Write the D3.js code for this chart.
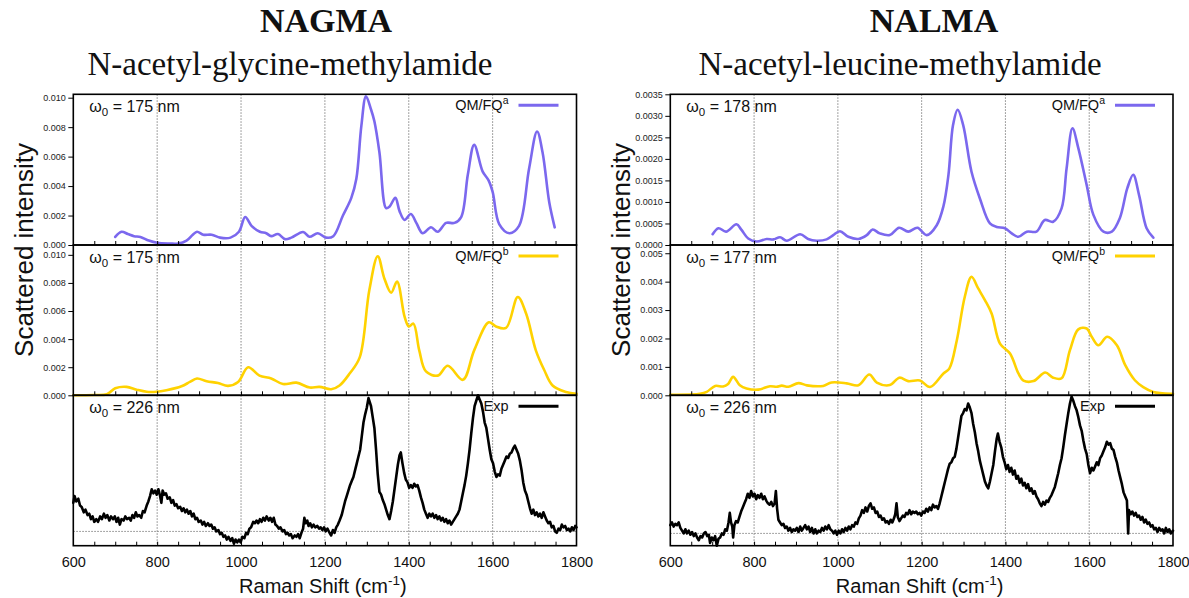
<!DOCTYPE html>
<html>
<head>
<meta charset="utf-8">
<script src="https://cdn.jsdelivr.net/npm/d3@7"></script>
<style>
  body { margin: 0; background: #fff; }
  svg { display: block; }
</style>
</head>
<body>
<svg id="fig" width="1189" height="598"></svg>
<script>
// ---------------------------------------------------------------
// Raman spectra: computed (QM/FQ a, QM/FQ b) vs experiment
// Each series is a list of [Raman shift (cm-1), intensity] pairs.
// ---------------------------------------------------------------

const shiftTicks = [600, 800, 1000, 1200, 1400, 1600, 1800];
const gridShifts = [800, 1000, 1200, 1400, 1600];

const nagmaTicksA = [0, 0.002, 0.004, 0.006, 0.008, 0.010];
const nagmaTicksB = [0, 0.002, 0.004, 0.006, 0.008, 0.010];
const nalmaTicksA = [0, 0.0005, 0.0010, 0.0015, 0.0020, 0.0025, 0.0030, 0.0035];
const nalmaTicksB = [0, 0.001, 0.002, 0.003, 0.004, 0.005];

// NAGMA, QM/FQ a (omega0 = 175 nm)
const nagmaQmA = [
  [700,0.00055],[715,0.0009],[730,0.00075],[745,0.0006],[760,0.00055],[780,0.0003],
  [800,0.00015],[830,0.0001],[850,0.0001],[870,0.0003],[885,0.0007],[895,0.0009],
  [910,0.0007],[930,0.0007],[950,0.0005],[975,0.0005],[995,0.0009],[1010,0.0019],
  [1025,0.0013],[1045,0.0009],[1060,0.0008],[1072,0.0006],[1088,0.00075],[1105,0.0004],
  [1120,0.0005],[1148,0.00088],[1163,0.00056],[1183,0.0008],[1203,0.0005],[1220,0.0006],
  [1243,0.002],[1263,0.0032],[1275,0.0045],[1287,0.0081],[1298,0.0101],[1310,0.0092],
  [1318,0.0084],[1330,0.0063],[1346,0.0025],[1354,0.0026],[1368,0.0032],[1378,0.0023],
  [1390,0.0017],[1405,0.0021],[1418,0.0015],[1433,0.0008],[1453,0.0012],[1469,0.0009],
  [1489,0.0015],[1509,0.0015],[1525,0.0019],[1541,0.0048],[1556,0.0068],[1576,0.005],
  [1590,0.0044],[1600,0.0036],[1616,0.0014],[1640,0.0008],[1663,0.0013],[1687,0.0052],
  [1706,0.0077],[1719,0.0063],[1735,0.0029],[1748,0.0012]
];

// NAGMA, QM/FQ b (omega0 = 175 nm)
const nagmaQmB = [
  [600,0.0],[650,0.00002],[680,0.00008],[700,0.0005],[727,0.0006],[751,0.0004],
  [775,0.00025],[798,0.00025],[822,0.00036],[858,0.00064],[878,0.00095],[895,0.0012],
  [918,0.001],[945,0.00088],[969,0.00067],[993,0.00095],[1017,0.002],[1044,0.0014],
  [1072,0.0012],[1100,0.0008],[1132,0.0009],[1164,0.00055],[1187,0.0006],[1215,0.00043],
  [1235,0.0007],[1259,0.00155],[1283,0.0027],[1306,0.0075],[1326,0.0099],[1342,0.0083],
  [1358,0.0073],[1372,0.0081],[1390,0.0056],[1400,0.0049],[1411,0.0051],[1425,0.0032],
  [1441,0.0017],[1469,0.0014],[1493,0.0021],[1529,0.0011],[1556,0.0032],[1591,0.0052],
  [1608,0.0049],[1632,0.0048],[1660,0.007],[1680,0.0058],[1703,0.0032],[1723,0.0018],
  [1743,0.0007],[1775,0.00024],[1800,0.0001]
];

// NAGMA, experiment (omega0 = 226 nm), arbitrary units
const nagmaExp = [
  [600,0.21],[603,0.26],[607,0.22],[612,0.24],[616,0.19],[620,0.18],[625,0.14],[629,0.16],[634,0.12],[638,0.13],
  [642,0.09],[646,0.11],[650,0.07],[655,0.09],[659,0.07],[664,0.11],[668,0.09],[673,0.13],[677,0.10],[681,0.12],
  [686,0.08],[690,0.11],[695,0.09],[699,0.11],[703,0.07],[707,0.10],[711,0.05],[715,0.09],[720,0.08],[724,0.11],
  [728,0.09],[733,0.10],[737,0.08],[741,0.12],[745,0.10],[749,0.14],[753,0.11],[757,0.12],[762,0.10],[766,0.15],
  [770,0.14],[775,0.19],[779,0.22],[783,0.26],[787,0.31],[791,0.28],[795,0.30],[799,0.27],[803,0.31],[807,0.26],
  [810,0.21],[813,0.30],[817,0.27],[821,0.28],[825,0.24],[830,0.25],[834,0.21],[838,0.23],[842,0.19],[846,0.20],
  [850,0.17],[855,0.18],[859,0.15],[863,0.17],[867,0.14],[871,0.16],[875,0.13],[879,0.15],[883,0.11],[887,0.13],
  [891,0.09],[895,0.10],[899,0.07],[904,0.08],[908,0.05],[912,0.07],[916,0.04],[921,0.06],[925,0.04],[929,0.05],
  [933,0.02],[937,0.03],[941,0.00],[946,0.01],[950,-0.02],[954,-0.01],[958,-0.04],[962,-0.03],[966,-0.06],[970,-0.04],
  [975,-0.07],[979,-0.05],[983,-0.09],[987,-0.06],[991,-0.08],[995,-0.06],[999,-0.08],[1003,-0.04],[1008,-0.05],[1012,-0.01],
  [1016,-0.02],[1020,0.02],[1024,0.03],[1029,0.07],[1033,0.06],[1037,0.08],[1041,0.06],[1045,0.09],[1049,0.07],[1053,0.10],
  [1057,0.08],[1061,0.11],[1066,0.08],[1070,0.10],[1074,0.07],[1078,0.10],[1082,0.05],[1086,0.04],[1090,0.02],[1094,0.03],
  [1099,0.00],[1103,0.01],[1107,-0.02],[1111,-0.01],[1115,-0.03],[1119,-0.02],[1123,-0.05],[1128,-0.03],[1132,-0.04],[1136,-0.02],
  [1140,-0.05],[1144,-0.01],[1148,0.02],[1151,0.10],[1154,0.06],[1158,0.08],[1161,0.04],[1165,0.06],[1169,0.03],[1173,0.05],
  [1177,0.03],[1182,0.04],[1186,0.02],[1190,0.03],[1194,0.01],[1198,0.03],[1202,0.00],[1206,0.02],[1211,-0.01],[1215,-0.03],
  [1219,0.01],[1223,-0.01],[1227,0.03],[1231,0.05],[1235,0.08],[1240,0.12],[1244,0.17],[1248,0.22],[1252,0.26],[1256,0.30],
  [1260,0.34],[1264,0.37],[1268,0.40],[1272,0.45],[1276,0.50],[1280,0.55],[1284,0.60],[1288,0.70],[1292,0.80],[1296,0.86],
  [1300,0.91],[1304,0.98],[1307,0.95],[1310,0.92],[1314,0.84],[1318,0.76],[1322,0.60],[1326,0.42],[1330,0.29],[1334,0.27],
  [1338,0.23],[1342,0.20],[1346,0.16],[1350,0.12],[1354,0.09],[1358,0.15],[1362,0.22],[1366,0.31],[1370,0.40],[1374,0.49],
  [1378,0.56],[1381,0.58],[1385,0.50],[1389,0.43],[1393,0.38],[1397,0.36],[1401,0.32],[1405,0.34],[1409,0.32],[1413,0.35],
  [1417,0.33],[1421,0.34],[1425,0.30],[1429,0.25],[1433,0.21],[1437,0.16],[1441,0.13],[1445,0.10],[1449,0.13],[1453,0.11],
  [1457,0.13],[1461,0.10],[1465,0.12],[1469,0.09],[1473,0.11],[1477,0.08],[1481,0.10],[1485,0.07],[1489,0.09],[1493,0.06],
  [1497,0.08],[1501,0.05],[1505,0.07],[1509,0.09],[1513,0.11],[1517,0.13],[1521,0.16],[1525,0.22],[1529,0.28],[1533,0.34],
  [1537,0.41],[1541,0.50],[1545,0.60],[1549,0.72],[1553,0.83],[1557,0.92],[1561,0.96],[1565,1.00],[1569,0.97],[1573,0.94],
  [1577,0.88],[1581,0.80],[1585,0.76],[1589,0.68],[1593,0.60],[1597,0.53],[1601,0.50],[1605,0.44],[1609,0.40],[1613,0.42],
  [1617,0.41],[1621,0.46],[1625,0.49],[1629,0.52],[1633,0.55],[1637,0.54],[1641,0.57],[1645,0.58],[1649,0.61],[1653,0.63],
  [1657,0.60],[1661,0.57],[1665,0.52],[1669,0.45],[1673,0.36],[1677,0.30],[1681,0.27],[1685,0.22],[1689,0.17],[1693,0.13],
  [1697,0.16],[1701,0.12],[1705,0.14],[1709,0.11],[1713,0.13],[1717,0.10],[1721,0.14],[1725,0.11],[1729,0.08],[1733,0.06],
  [1737,0.07],[1741,0.03],[1745,0.04],[1749,0.00],[1753,-0.01],[1757,0.02],[1761,0.01],[1765,0.05],[1769,0.03],[1773,0.04],
  [1777,0.01],[1781,0.02],[1785,0.00],[1789,0.03],[1793,0.01],[1797,0.04],[1800,0.03]
];

// NALMA, QM/FQ a (omega0 = 178 nm)
const nalmaQmA = [
  [701,0.00025],[715,0.00039],[733,0.00031],[758,0.00048],[770,0.00035],[786,0.00015],
  [806,0.00008],[830,0.00014],[846,0.00013],[862,0.00018],[878,0.0001],[910,0.00025],
  [929,0.00014],[949,0.0001],[973,0.00013],[989,0.00023],[1005,0.00032],[1025,0.00019],
  [1049,0.00014],[1069,0.00023],[1083,0.00036],[1100,0.00027],[1124,0.00023],[1146,0.0004],
  [1168,0.00031],[1190,0.0004],[1212,0.00023],[1236,0.00046],[1252,0.0009],[1264,0.00163],
  [1275,0.00279],[1286,0.00314],[1299,0.00279],[1319,0.0017],[1339,0.00108],[1363,0.0005],
  [1379,0.00042],[1399,0.00039],[1415,0.00027],[1431,0.00019],[1451,0.00031],[1474,0.00031],
  [1494,0.00058],[1514,0.00054],[1534,0.00085],[1546,0.00178],[1560,0.00271],[1574,0.00225],
  [1594,0.00139],[1610,0.0007],[1634,0.00031],[1654,0.00031],[1673,0.00062],[1691,0.00132],
  [1705,0.00163],[1719,0.00116],[1737,0.00039],[1753,0.00017]
];

// NALMA, QM/FQ b (omega0 = 177 nm)
const nalmaQmB = [
  [600,0.00002],[671,0.00005],[687,0.00012],[707,0.00033],[726,0.00031],[738,0.0004],
  [750,0.00065],[766,0.00035],[782,0.00024],[810,0.0002],[838,0.00032],[854,0.0003],
  [866,0.00034],[882,0.0003],[906,0.00043],[926,0.00035],[965,0.00033],[985,0.00045],
  [1021,0.00042],[1049,0.00035],[1075,0.00073],[1093,0.00045],[1124,0.00036],[1147,0.00062],
  [1168,0.0005],[1196,0.00052],[1220,0.00029],[1252,0.00077],[1266,0.00094],[1284,0.00194],
  [1303,0.00347],[1319,0.00417],[1335,0.00376],[1351,0.00335],[1367,0.00288],[1387,0.00182],
  [1411,0.00147],[1431,0.00077],[1443,0.00052],[1467,0.0005],[1495,0.0008],[1514,0.00062],
  [1534,0.0006],[1554,0.00159],[1574,0.00232],[1594,0.00235],[1606,0.00206],[1622,0.00176],
  [1643,0.00206],[1666,0.00176],[1686,0.00106],[1709,0.00053],[1729,0.00029],[1753,0.00012],
  [1797,0.00005],[1800,0.00005]
];

// NALMA, experiment (omega0 = 226 nm), arbitrary units
const nalmaExp = [
  [600,0.06],[604,0.08],[608,0.05],[612,0.07],[616,0.06],[620,0.08],[624,0.04],[628,0.02],[632,0.00],[636,0.03],
  [640,0.00],[644,0.02],[648,-0.01],[652,0.01],[656,-0.02],[660,0.00],[664,-0.03],[668,-0.05],[672,-0.02],[676,-0.03],
  [680,0.00],[684,0.01],[688,-0.02],[692,-0.01],[695,-0.07],[699,-0.03],[703,-0.05],[707,-0.02],[711,-0.09],[715,-0.04],
  [719,-0.03],[723,0.00],[727,-0.01],[731,0.03],[735,0.02],[739,0.08],[742,0.15],[745,0.08],[748,0.05],[750,-0.03],
  [753,0.06],[757,0.09],[761,0.08],[765,0.12],[769,0.16],[773,0.19],[777,0.22],[781,0.25],[785,0.29],[789,0.26],
  [793,0.31],[797,0.27],[801,0.29],[805,0.25],[809,0.28],[813,0.26],[817,0.29],[821,0.25],[825,0.27],[829,0.24],
  [833,0.22],[837,0.21],[841,0.23],[845,0.20],[849,0.22],[852,0.31],[855,0.18],[858,0.10],[862,0.08],[866,0.06],
  [870,0.07],[874,0.04],[878,0.05],[882,0.02],[886,0.04],[890,0.01],[894,0.03],[898,0.02],[902,0.04],[906,0.01],
  [910,0.05],[914,0.02],[918,0.04],[922,0.06],[926,0.03],[930,0.05],[934,0.01],[938,0.04],[942,0.00],[946,0.03],
  [950,0.00],[954,0.02],[958,0.01],[962,0.04],[966,0.02],[970,0.05],[974,0.03],[978,0.06],[982,0.03],[986,0.02],
  [990,0.00],[994,0.02],[998,-0.01],[1002,0.02],[1006,0.00],[1010,0.03],[1014,0.01],[1018,0.04],[1022,0.02],[1026,0.05],
  [1030,0.03],[1034,0.06],[1038,0.05],[1042,0.08],[1046,0.07],[1050,0.11],[1054,0.13],[1058,0.17],[1062,0.15],[1066,0.19],
  [1070,0.16],[1074,0.20],[1078,0.22],[1082,0.18],[1086,0.19],[1090,0.15],[1094,0.16],[1098,0.12],[1102,0.13],[1106,0.10],
  [1110,0.11],[1114,0.08],[1118,0.09],[1122,0.07],[1126,0.10],[1130,0.08],[1134,0.11],[1137,0.14],[1140,0.22],[1143,0.12],
  [1147,0.09],[1151,0.11],[1155,0.13],[1159,0.12],[1163,0.15],[1167,0.14],[1171,0.17],[1175,0.14],[1179,0.16],[1183,0.15],
  [1187,0.16],[1191,0.14],[1195,0.15],[1199,0.13],[1203,0.16],[1207,0.15],[1211,0.18],[1215,0.16],[1219,0.19],[1223,0.17],
  [1227,0.21],[1231,0.19],[1235,0.20],[1239,0.18],[1243,0.22],[1247,0.27],[1251,0.32],[1255,0.37],[1259,0.42],[1263,0.47],
  [1267,0.51],[1271,0.52],[1275,0.55],[1279,0.56],[1283,0.62],[1287,0.70],[1291,0.78],[1295,0.86],[1299,0.88],[1303,0.91],
  [1307,0.90],[1311,0.95],[1315,0.92],[1319,0.88],[1323,0.80],[1327,0.74],[1331,0.66],[1335,0.60],[1339,0.53],[1343,0.48],
  [1347,0.43],[1351,0.38],[1355,0.35],[1359,0.33],[1363,0.38],[1367,0.44],[1371,0.50],[1375,0.60],[1379,0.69],[1382,0.73],
  [1386,0.67],[1390,0.63],[1394,0.56],[1398,0.52],[1402,0.47],[1406,0.50],[1410,0.45],[1414,0.48],[1418,0.43],[1422,0.46],
  [1426,0.40],[1430,0.42],[1434,0.37],[1438,0.40],[1442,0.35],[1446,0.37],[1450,0.33],[1454,0.36],[1458,0.31],[1462,0.33],
  [1466,0.29],[1470,0.31],[1474,0.27],[1478,0.25],[1482,0.22],[1486,0.20],[1490,0.23],[1494,0.21],[1498,0.24],[1502,0.23],
  [1506,0.26],[1510,0.28],[1514,0.31],[1518,0.34],[1522,0.39],[1526,0.44],[1530,0.50],[1534,0.55],[1538,0.63],[1542,0.72],
  [1546,0.80],[1550,0.88],[1554,0.95],[1558,1.00],[1562,0.97],[1566,0.93],[1570,0.90],[1574,0.85],[1578,0.79],[1582,0.75],
  [1586,0.68],[1590,0.62],[1594,0.58],[1598,0.50],[1602,0.44],[1606,0.48],[1610,0.46],[1614,0.49],[1618,0.52],[1622,0.50],
  [1626,0.55],[1630,0.57],[1634,0.60],[1638,0.63],[1642,0.67],[1646,0.65],[1650,0.66],[1654,0.62],[1658,0.61],[1662,0.56],
  [1666,0.52],[1670,0.46],[1674,0.41],[1678,0.36],[1682,0.30],[1686,0.27],[1690,0.24],[1693,0.00],[1695,0.17],[1699,0.14],
  [1703,0.16],[1707,0.13],[1711,0.15],[1715,0.12],[1719,0.13],[1723,0.10],[1727,0.12],[1731,0.08],[1735,0.10],[1739,0.07],
  [1743,0.08],[1747,0.05],[1751,0.06],[1755,0.03],[1759,0.04],[1763,0.01],[1767,0.04],[1771,0.02],[1775,0.03],[1779,0.00],
  [1783,0.04],[1787,0.01],[1791,0.03],[1795,0.00],[1800,0.02]
];

// ---------------------------------------------------------------
const SANS = "'Liberation Sans', Arial, Helvetica, sans-serif";
const SERIF = "'Liberation Serif', 'Times New Roman', serif";
const PURPLE = "#7b68ee";
const GOLD = "#ffd200";

const svg = d3.select("#fig");
svg.append("rect").attr("width", 1189).attr("height", 598).attr("fill", "#fff");

// vertical layout shared by both columns: three stacked panels
const rowTop = [94.3, 245, 395.3];
const rowBot = [245, 395.3, 545.7];

function drawColumn(cfg) {
  const g = svg.append("g");
  const x = d3.scaleLinear().domain([600, 1800]).range([cfg.left, cfg.right]);

  const rows = [
    { data: cfg.qmA, color: PURPLE, domain: cfg.domA, ticks: cfg.ticksA, fmt: cfg.fmtA,
      label: "QM/FQ", sup: "a", omega: cfg.omegaA, smooth: true },
    { data: cfg.qmB, color: GOLD, domain: cfg.domB, ticks: cfg.ticksB, fmt: cfg.fmtB,
      label: "QM/FQ", sup: "b", omega: cfg.omegaB, smooth: true },
    { data: cfg.exp, color: "#000", domain: cfg.domExp, ticks: null, fmt: null,
      label: "Exp", sup: null, omega: "226", smooth: false }
  ];

  rows.forEach((r, i) => {
    const y = d3.scaleLinear().domain(r.domain).range([rowBot[i], rowTop[i]]);
    const pg = g.append("g");

    // dotted reference grid
    pg.selectAll("line.grid").data(gridShifts).join("line")
      .attr("x1", d => x(d)).attr("x2", d => x(d))
      .attr("y1", rowTop[i]).attr("y2", rowBot[i])
      .attr("stroke", "#777").attr("stroke-width", 0.9)
      .attr("stroke-dasharray", "1.5,1.5");
    if (!r.ticks) {
      pg.append("line")
        .attr("x1", cfg.left).attr("x2", cfg.right)
        .attr("y1", y(0)).attr("y2", y(0))
        .attr("stroke", "#777").attr("stroke-width", 0.9)
        .attr("stroke-dasharray", "1.5,1.5");
    }

    // spectrum
    const line = d3.line()
      .x(d => x(d[0])).y(d => y(d[1]))
      .curve(r.smooth ? d3.curveCatmullRom.alpha(0.5) : d3.curveLinear);
    pg.append("path").datum(r.data)
      .attr("d", line)
      .attr("fill", "none")
      .attr("stroke", r.color)
      .attr("stroke-width", 2.6)
      .attr("stroke-linejoin", "round")
      .attr("stroke-linecap", "round");

    // minor ticks along the bottom edge, pointing inward
    const bx = d3.axisBottom(x)
      .tickValues(d3.range(650, 1800, 50))
      .tickSize(-4).tickFormat("");
    pg.append("g").attr("transform", `translate(0,${rowBot[i]})`).call(bx)
      .call(a => a.select(".domain").remove())
      .selectAll("line").attr("stroke", "#000").attr("stroke-width", 1);

    // intensity axis
    if (r.ticks) {
      const ay = d3.axisLeft(y).tickValues(r.ticks)
        .tickFormat(d3.format(r.fmt)).tickSize(5).tickPadding(2.5);
      pg.append("g").attr("transform", `translate(${cfg.left},0)`).call(ay)
        .call(a => a.select(".domain").remove())
        .call(a => a.selectAll("text").attr("font-family", SANS).attr("font-size", 9).attr("fill", "#222"))
        .call(a => a.selectAll("line").attr("stroke", "#000"));
    }

    // frame
    pg.append("rect")
      .attr("x", cfg.left).attr("y", rowTop[i])
      .attr("width", cfg.right - cfg.left).attr("height", rowBot[i] - rowTop[i])
      .attr("fill", "none").attr("stroke", "#000").attr("stroke-width", 1.6);

    // excitation wavelength note
    const note = pg.append("text")
      .attr("x", cfg.left + 16).attr("y", rowTop[i] + 18)
      .attr("font-family", SANS).attr("font-size", 16).attr("fill", "#111");
    note.append("tspan").text("\u03c9");
    note.append("tspan").attr("dy", 4).attr("font-size", 11.5).text("0");
    note.append("tspan").attr("dy", -4).text(" = " + r.omega + " nm");

    // legend entry
    const ly = rowTop[i] + 11;
    const leg = pg.append("text")
      .attr("x", cfg.right - 68).attr("y", ly + 5)
      .attr("text-anchor", "end")
      .attr("font-family", SANS).attr("font-size", 14.5).attr("fill", "#111");
    leg.append("tspan").text(r.label);
    if (r.sup) leg.append("tspan").attr("dy", -6).attr("font-size", 10.5).text(r.sup);
    pg.append("line")
      .attr("x1", cfg.right - 58).attr("x2", cfg.right - 18)
      .attr("y1", ly).attr("y2", ly)
      .attr("stroke", r.color).attr("stroke-width", 3);
  });

  // Raman shift labels
  const ax = d3.axisBottom(x).tickValues(shiftTicks).tickFormat(d3.format("d"))
    .tickSize(0).tickPadding(11.5);
  g.append("g").attr("transform", `translate(0,${rowBot[2]})`).call(ax)
    .call(a => a.select(".domain").remove())
    .selectAll("text").attr("font-family", SANS).attr("font-size", 14.5).attr("fill", "#111");

  const xl = g.append("text")
    .attr("x", (cfg.left + cfg.right) / 2 - 2).attr("y", 593)
    .attr("text-anchor", "middle")
    .attr("font-family", SANS).attr("font-size", 20).attr("fill", "#111");
  xl.append("tspan").text("Raman Shift (cm");
  xl.append("tspan").attr("dy", -8).attr("font-size", 13.5).text("-1");
  xl.append("tspan").attr("dy", 8).text(")");

  g.append("text")
    .attr("transform", `translate(${cfg.left - 40},${250}) rotate(-90)`)
    .attr("text-anchor", "middle")
    .attr("font-family", SANS).attr("font-size", 26).attr("fill", "#111")
    .text("Scattered intensity");

  // molecule titles
  g.append("text")
    .attr("x", cfg.titleX).attr("y", 32)
    .attr("text-anchor", "middle")
    .attr("font-family", SERIF).attr("font-weight", "bold").attr("font-size", 34)
    .attr("fill", "#111").text(cfg.title);
  g.append("text")
    .attr("x", cfg.subX).attr("y", 75)
    .attr("text-anchor", "middle")
    .attr("font-family", SERIF).attr("font-size", 33)
    .attr("fill", "#111").text(cfg.subtitle);
}

drawColumn({
  left: 73.3, right: 576.5,
  qmA: nagmaQmA, qmB: nagmaQmB, exp: nagmaExp,
  domA: [0, 0.01023], domB: [0, 0.0107], domExp: [-0.105, 1.0],
  ticksA: nagmaTicksA, ticksB: nagmaTicksB, fmtA: ".3f", fmtB: ".3f",
  omegaA: "175", omegaB: "175",
  title: "NAGMA", subtitle: "N-acetyl-glycine-methylamide", titleX: 326, subX: 290
});

drawColumn({
  left: 670.3, right: 1173,
  qmA: nalmaQmA, qmB: nalmaQmB, exp: nalmaExp,
  domA: [0, 0.0035], domB: [0, 0.00529], domExp: [-0.09, 1.01],
  ticksA: nalmaTicksA, ticksB: nalmaTicksB, fmtA: ".4f", fmtB: ".3f",
  omegaA: "178", omegaB: "177",
  title: "NALMA", subtitle: "N-acetyl-leucine-methylamide", titleX: 934, subX: 900
});
</script>
</body>
</html>
